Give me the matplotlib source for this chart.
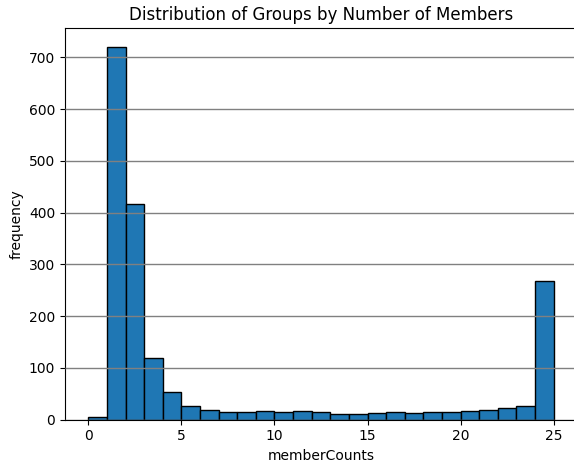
import numpy as np
import matplotlib
matplotlib.use("Agg")
import matplotlib.pyplot as plt

# Number of groups per member-count bin (bins of width 1 from 0 to 25)
bin_edges = list(range(0, 26))
group_counts = [4, 720, 416, 119, 53, 26, 18, 14, 14, 17, 14, 16, 14, 11, 10,
                13, 14, 13, 15, 14, 16, 18, 22, 26, 267]

title = "Distribution of Groups by Number of Members"
x_label = "memberCounts"
y_label = "frequency"

fig = plt.figure(figsize=(5.74, 4.65), dpi=100)
ax = fig.add_axes([65 / 574, 1 - 419.5 / 465, (577 - 65) / 574, (419.5 - 28.3) / 465])

centers = np.array(bin_edges[:-1]) + 0.5
ax.hist(centers, bins=bin_edges, weights=group_counts,
        color="#1f77b4", edgecolor="black", linewidth=1.0)

ax.set_axisbelow(False)
ax.grid(axis="y", color="gray", linewidth=1.0)
ax.set_xticks([0, 5, 10, 15, 20, 25])
ax.set_yticks([0, 100, 200, 300, 400, 500, 600, 700])

ax.set_title(title, fontsize=12)
ax.set_xlabel(x_label)
ax.set_ylabel(y_label)

fig.savefig("out.png", dpi=100)
